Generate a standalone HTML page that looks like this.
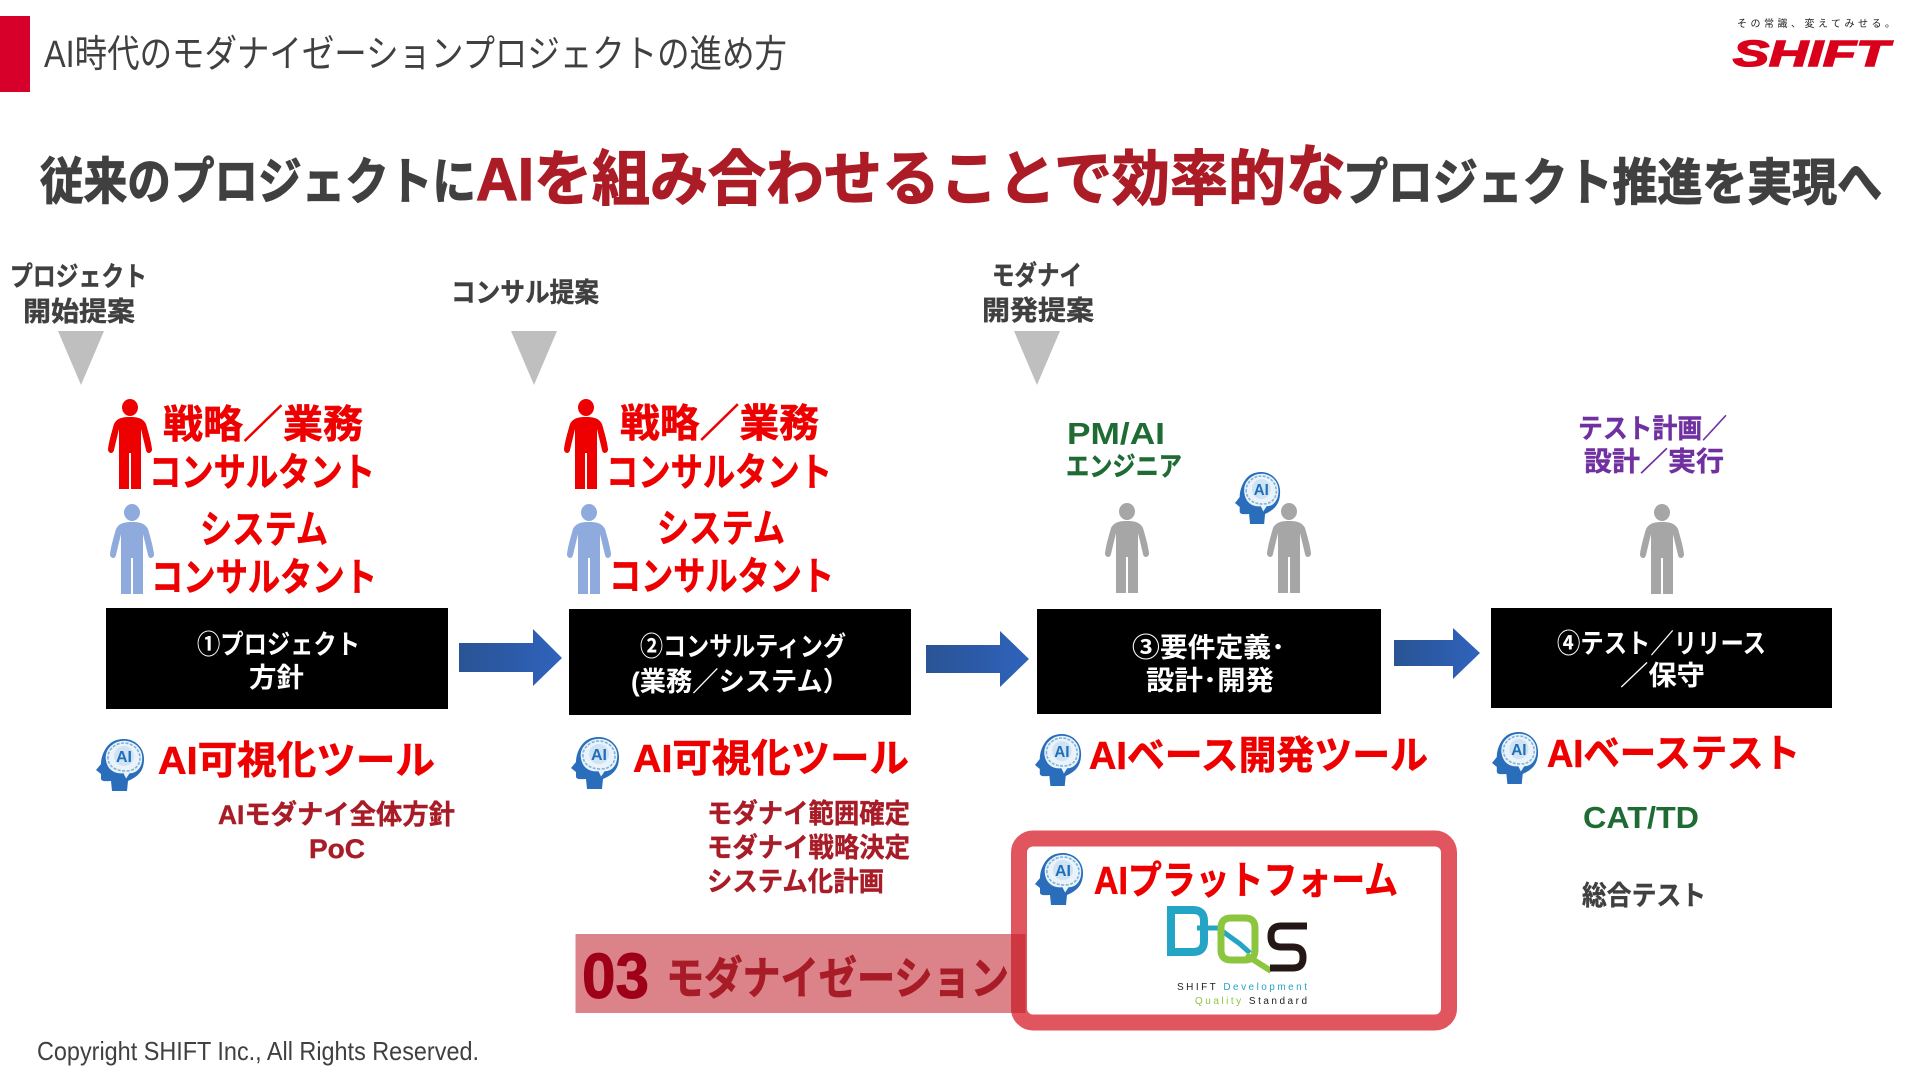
<!DOCTYPE html>
<html lang="ja"><head><meta charset="utf-8"><title>AI時代のモダナイゼーションプロジェクトの進め方</title>
<style>
html,body{margin:0;padding:0;background:#fff;width:1920px;height:1080px;overflow:hidden}
svg{display:block}
text{font-family:"Liberation Sans","Noto Sans CJK JP",sans-serif}
.b{font-weight:700}
.h{font-weight:700;stroke-width:1.2}
.r{fill:#ee0000;stroke:#ee0000;stroke-width:.6;font-weight:700;font-size:39px}
.d{fill:#a81c28;stroke:#a81c28;stroke-width:.4;font-weight:700;font-size:27px}
.g{fill:#404040;stroke:#404040;stroke-width:.4;font-weight:700;font-size:27px}
.w{fill:#fff;font-weight:700;font-size:27px}
</style></head><body>
<svg width="1920" height="1080" viewBox="0 0 1920 1080" xmlns="http://www.w3.org/2000/svg">
<defs>
<linearGradient id="ar" x1="0" x2="1" y1="0" y2="0"><stop offset="0" stop-color="#2a5494"/><stop offset=".5" stop-color="#2c5aa8"/><stop offset="1" stop-color="#2f64bc"/></linearGradient>
<symbol id="person" viewBox="0 0 44 90" overflow="visible">
<ellipse cx="22" cy="8.5" rx="8" ry="8.5"/>
<path d="M22 18C15 18 9 19 6 25C4 32 1 42 0 50C-.3 54 5 56 6 51L11 30L11 90L21 90L21 54L23 54L23 90L33 90L33 30L38 51C39 56 44.3 54 44 50C43 42 40 32 38 25C35 19 29 18 22 18Z"/>
</symbol>
<symbol id="head" viewBox="0 0 50 52" overflow="visible">
<path fill="#2a6ebb" d="M10 9C6 15 5 21 5 25L0 31L5 35L5 40C6 43 11 42 15 42L16 52L31 52L32 42C41 38 48 33 48 20C48 8 38 0 28 0C20 0 14 3 10 9Z"/>
<path fill="#eaf3fa" stroke="#2a6ebb" stroke-width="1.5" d="M9 20C8 9 18 1 28 1C39 1 47 9 47 19C47 29 41 35 34 35L30 41L27 35C17 36 10 30 9 20Z"/>
<path fill="none" stroke="#7eb3dc" stroke-width="1.6" stroke-dasharray="3 1.5" d="M12 20C11 11 19 4 28 4C37 4 44 11 44 19C44 27 38 32 30 32C20 32 13 28 12 20Z"/>
<circle cx="28" cy="17" r="10" fill="#cfe3f4"/>
</symbol>
</defs>

<!-- header -->
<rect x="0" y="16" width="30" height="76" fill="#d7002a"/>
<text x="44" y="67" font-size="38" fill="#404040" textLength="743" lengthAdjust="spacingAndGlyphs">AI時代のモダナイゼーションプロジェクトの進め方</text>
<text x="1737" y="27" font-size="10" fill="#222" textLength="158" lengthAdjust="spacing">その常識、変えてみせる。</text>
<text x="1733" y="66" font-size="36" font-weight="700" font-style="italic" fill="#d9001b" stroke="#d9001b" stroke-width="1.5" textLength="156" lengthAdjust="spacingAndGlyphs">SHIFT</text>

<!-- headline -->
<text class="h" x="40" y="199" font-size="50" fill="#404040" stroke="#404040" textLength="436" lengthAdjust="spacingAndGlyphs">従来のプロジェクトに</text>
<text class="h" x="476" y="200" font-size="60" fill="#ab1c26" stroke="#ab1c26" textLength="810" lengthAdjust="spacingAndGlyphs">AIを組み合わせることで効率的</text>
<text class="h" x="1286" y="199" font-size="66" fill="#ab1c26" stroke="#ab1c26" textLength="60" lengthAdjust="spacingAndGlyphs">な</text>
<text class="h" x="1343" y="200" font-size="50" fill="#404040" stroke="#404040" textLength="539" lengthAdjust="spacingAndGlyphs">プロジェクト推進を実現へ</text>

<!-- proposals -->
<text class="g" x="10" y="286" textLength="137" lengthAdjust="spacingAndGlyphs">プロジェクト</text>
<text class="g" x="23" y="321" textLength="112" lengthAdjust="spacingAndGlyphs">開始提案</text>
<text class="g" x="451" y="302" textLength="148" lengthAdjust="spacingAndGlyphs">コンサル提案</text>
<text class="g" x="992" y="285" textLength="90" lengthAdjust="spacingAndGlyphs">モダナイ</text>
<text class="g" x="982" y="320" textLength="112" lengthAdjust="spacingAndGlyphs">開発提案</text>
<g fill="#bfbfbf">
<polygon points="58,331 104,331 81,385"/>
<polygon points="511,331 557,331 534,385"/>
<polygon points="1014,331 1060,331 1037,385"/>
</g>

<!-- persons -->
<g fill="#ee0000">
<use href="#person" x="108" y="399" width="44" height="90"/>
<use href="#person" x="564" y="399" width="44" height="90"/>
</g>
<g fill="#8faadc">
<use href="#person" x="110" y="504" width="44" height="90"/>
<use href="#person" x="567" y="504" width="44" height="90"/>
</g>
<g fill="#a6a6a6">
<use href="#person" x="1105" y="503" width="44" height="90"/>
<use href="#person" x="1267" y="503" width="44" height="90"/>
<use href="#person" x="1640" y="504" width="44" height="90"/>
</g>

<!-- role text -->
<text class="r" x="163" y="438" textLength="200" lengthAdjust="spacingAndGlyphs">戦略／業務</text>
<text class="r" x="149" y="486" textLength="226" lengthAdjust="spacingAndGlyphs">コンサルタント</text>
<text class="r" x="200" y="543" textLength="128" lengthAdjust="spacingAndGlyphs">システム</text>
<text class="r" x="151" y="591" textLength="226" lengthAdjust="spacingAndGlyphs">コンサルタント</text>
<text class="r" x="620" y="437" textLength="199" lengthAdjust="spacingAndGlyphs">戦略／業務</text>
<text class="r" x="606" y="486" textLength="226" lengthAdjust="spacingAndGlyphs">コンサルタント</text>
<text class="r" x="657" y="542" textLength="128" lengthAdjust="spacingAndGlyphs">システム</text>
<text class="r" x="609" y="590" textLength="225" lengthAdjust="spacingAndGlyphs">コンサルタント</text>

<text class="b" x="1067" y="444" font-size="31" fill="#1e6b34" textLength="98" lengthAdjust="spacingAndGlyphs">PM/AI</text>
<text class="b" x="1066" y="476" font-size="27" fill="#1e6b34" stroke="#1e6b34" stroke-width=".4" textLength="116" lengthAdjust="spacingAndGlyphs">エンジニア</text>
<text class="b" x="1578" y="438" font-size="27" fill="#7030a0" stroke="#7030a0" stroke-width=".4" textLength="149" lengthAdjust="spacingAndGlyphs">テスト計画／</text>
<text class="b" x="1584" y="471" font-size="27" fill="#7030a0" stroke="#7030a0" stroke-width=".4" textLength="140" lengthAdjust="spacingAndGlyphs">設計／実行</text>

<!-- boxes -->
<rect x="106" y="608" width="342" height="101" fill="#000"/>
<rect x="569" y="609" width="342" height="106" fill="#000"/>
<rect x="1037" y="609" width="344" height="105" fill="#000"/>
<rect x="1491" y="608" width="341" height="100" fill="#000"/>
<text class="w" x="197" y="654" textLength="163" lengthAdjust="spacingAndGlyphs">①プロジェクト</text>
<text class="w" x="249" y="687" textLength="55" lengthAdjust="spacingAndGlyphs">方針</text>
<text class="w" x="640" y="656" textLength="206" lengthAdjust="spacingAndGlyphs">②コンサルティング</text>
<text class="w" x="631" y="691" textLength="218" lengthAdjust="spacingAndGlyphs">(業務／システム）</text>
<text class="w" x="1132" y="657" textLength="153" lengthAdjust="spacingAndGlyphs">③要件定義･</text>
<text class="w" x="1146" y="690" textLength="128" lengthAdjust="spacingAndGlyphs">設計･開発</text>
<text class="w" x="1557" y="653" textLength="209" lengthAdjust="spacingAndGlyphs">④テスト／リリース</text>
<text class="w" x="1620" y="685" textLength="85" lengthAdjust="spacingAndGlyphs">／保守</text>

<!-- arrows -->
<polygon fill="url(#ar)" points="459,643 533,643 533,629 562,658 533,686 533,672 459,672"/>
<polygon fill="url(#ar)" points="926,645 1000,645 1000,631 1029,659 1000,687 1000,673 926,673"/>
<polygon fill="url(#ar)" points="1394,640 1453,640 1453,628 1480,653 1453,679 1453,666 1394,666"/>

<!-- AI heads -->
<g transform="translate(1235,472) scale(.94,1)"><use href="#head" width="50" height="52"/><text class="b" x="28" y="23" font-size="16" text-anchor="middle" fill="#1f6fb8">AI</text></g>
<g transform="translate(96,739)"><use href="#head" width="50" height="52"/><text class="b" x="28" y="23" font-size="16" text-anchor="middle" fill="#1f6fb8">AI</text></g>
<g transform="translate(571,737)"><use href="#head" width="50" height="52"/><text class="b" x="28" y="23" font-size="16" text-anchor="middle" fill="#1f6fb8">AI</text></g>
<g transform="translate(1035,734) scale(.96,1)"><use href="#head" width="50" height="52"/><text class="b" x="28" y="23" font-size="16" text-anchor="middle" fill="#1f6fb8">AI</text></g>
<g transform="translate(1492,732) scale(.96,1)"><use href="#head" width="50" height="52"/><text class="b" x="28" y="23" font-size="16" text-anchor="middle" fill="#1f6fb8">AI</text></g>

<!-- tools -->
<text class="r" x="158" y="774" textLength="277" lengthAdjust="spacingAndGlyphs">AI可視化ツール</text>
<text class="r" x="633" y="772" textLength="276" lengthAdjust="spacingAndGlyphs">AI可視化ツール</text>
<text class="r" x="1089" y="769" textLength="339" lengthAdjust="spacingAndGlyphs">AIベース開発ツール</text>
<text class="r" x="1547" y="767" textLength="253" lengthAdjust="spacingAndGlyphs">AIベーステスト</text>

<text class="d" x="218" y="824" textLength="237" lengthAdjust="spacingAndGlyphs">AIモダナイ全体方針</text>
<text class="d" x="309" y="858" font-size="29" textLength="56" lengthAdjust="spacingAndGlyphs">PoC</text>
<text class="d" x="707" y="823" textLength="203" lengthAdjust="spacingAndGlyphs">モダナイ範囲確定</text>
<text class="d" x="707" y="857" textLength="203" lengthAdjust="spacingAndGlyphs">モダナイ戦略決定</text>
<text class="d" x="707" y="891" textLength="177" lengthAdjust="spacingAndGlyphs">システム化計画</text>
<text class="b" x="1591" y="831" font-size="31" fill="#1e6b34" transform="translate(-8,-3)" textLength="116" lengthAdjust="spacingAndGlyphs">CAT/TD</text>
<text class="g" x="1582" y="905" textLength="124" lengthAdjust="spacingAndGlyphs">総合テスト</text>

<!-- platform frame -->
<rect x="1019" y="838.5" width="430" height="184" rx="14" fill="#fff" stroke="#e0555e" stroke-width="16"/>
<rect x="575.5" y="934" width="450" height="79" fill="#c01e28" fill-opacity=".55"/>
<text x="582" y="998" font-size="64" font-weight="700" fill="#9e0018" stroke="#9e0018" textLength="67" lengthAdjust="spacingAndGlyphs">03</text>
<text class="b" x="666" y="994" font-size="45" fill="#a81c28" stroke="#a81c28" stroke-width=".8" textLength="343" lengthAdjust="spacingAndGlyphs">モダナイゼーション</text>

<g transform="translate(1035,853)"><use href="#head" width="50" height="52"/><text class="b" x="28" y="23" font-size="16" text-anchor="middle" fill="#1f6fb8">AI</text></g>
<text class="r" x="1094" y="894" textLength="304" lengthAdjust="spacingAndGlyphs">AIプラットフォーム</text>

<!-- DQS logo -->
<g fill="none">
<path stroke="#25a5c5" stroke-width="8" d="M1171 910H1193Q1204 910 1204 921V941Q1204 952 1193 952H1171Z"/>
<path stroke="#25a5c5" stroke-width="5" d="M1197 928H1218L1240 944L1250 953"/>
<path stroke="#8cc63f" stroke-width="7" d="M1221 928Q1221 918 1231 918H1245Q1255 918 1255 928V950Q1255 960 1245 960H1231Q1221 960 1221 950Z"/>
<path stroke="#8cc63f" stroke-width="6" d="M1246 955L1271 971"/>
<path stroke="#231815" stroke-width="7" stroke-linejoin="round" d="M1307 926H1281Q1271 926 1271 936V937Q1271 947 1281 947H1293Q1303 947 1303 957V958Q1303 968 1293 968H1270"/>
</g>
<text x="1177" y="990" font-size="10" fill="#222" textLength="130" lengthAdjust="spacing">SHIFT <tspan fill="#25a5c5">Development</tspan></text>
<text x="1195" y="1004" font-size="10" fill="#8cc63f" textLength="112" lengthAdjust="spacing">Quality <tspan fill="#222">Standard</tspan></text>

<!-- footer -->
<text x="37" y="1060" font-size="26" fill="#404040" textLength="442" lengthAdjust="spacingAndGlyphs">Copyright SHIFT Inc., All Rights Reserved.</text>
</svg>
</body></html>
